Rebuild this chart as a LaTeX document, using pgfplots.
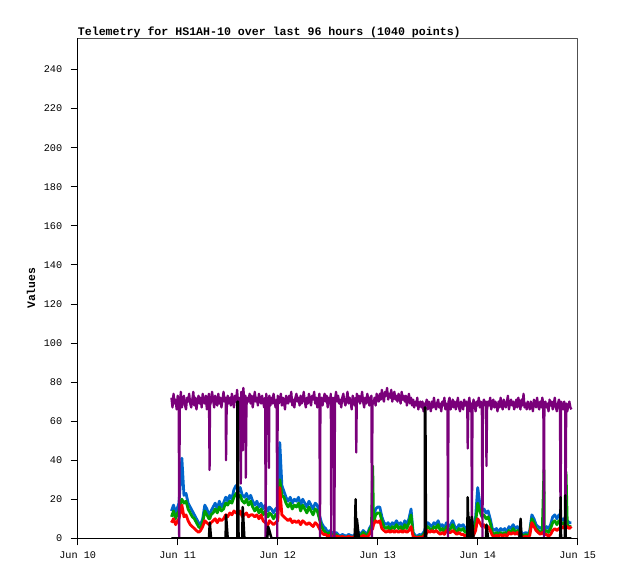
\documentclass[border=0pt]{standalone}
\usepackage{fontspec}
\setmonofont{Liberation Mono}
\usepackage{pgfplots}
\usepackage{pgfplotstable}
\pgfplotsset{compat=1.18}
\definecolor{tpurple}{RGB}{122,0,122}
\definecolor{tblue}{RGB}{0,102,204}
\definecolor{tgreen}{RGB}{0,160,0}
\definecolor{tred}{RGB}{255,0,0}
\definecolor{tframe}{RGB}{80,80,80}
\pgfplotstableread{
h b g r k
22.5 14 11 8 0
23.0 17 14 10 0
23.5 13 10 7 0
24.0 16 13 9 0
24.3 18 14 10 0
24.5 24 17 12 0
25.0 41 20 17 0
25.5 22 18 11 0
26.0 23 19 12 0
26.5 18 15 9 0
27.0 16 13 7 0
27.5 14 11 6 0
28.0 12 10 5 0
28.5 10 8 4 0
29.0 8 6 3 0
29.5 7 5 4 0
30.0 10 8 6 0
30.5 17 14 9 0
31.0 15 12 8 0
31.5 12 10 7 0
31.7 12 10 7 8
32.0 14 12 8 0
32.5 16 13 9 0
33.0 18 15 10 0
33.5 15 13 8 0
34.0 19 16 10 0
34.5 16 14 9 0
35.0 18 15 10 0
35.5 21 18 12 0
35.6 21 18 12 12
36.0 19 17 11 0
36.5 22 19 13 0
37.0 20 18 12 0
37.5 25 21 14 0
38.0 27 23 13 0
38.3 26 22 13 0
38.35 26 22 13 70
38.45 25 22 13 70
38.5 24 21 12 35
38.6 25 21 13 0
39.0 26 22 14 0
39.5 22 19 11 0
39.6 22 19 11 16
40.0 21 18 12 0
40.5 23 20 13 0
41.0 20 17 11 0
41.5 22 19 12 0
42.0 19 16 12 0
42.5 17 14 11 0
43.0 19 16 12 0
43.5 16 13 10 0
44.0 18 15 12 0
44.5 15 12 9 0
45.0 17 14 8 0
45.5 14 11 7 0
45.7 14 11 7 6
46.0 16 13 9 4
46.5 15 12 8 0
47.0 13 10 7 0
47.5 15 12 8 0
48.0 16 13 9 0
48.5 49 30 26 0
49.0 27 22 12 0
49.5 24 21 11 0
50.0 21 18 10 0
50.5 19 16 9 0
51.0 21 18 10 0
51.5 18 15 8 0
52.0 20 17 9 0
52.5 19 16 8 0
53.0 21 18 9 0
53.5 17 14 7 0
54.0 20 17 9 0
54.5 18 15 8 0
55.0 16 13 7 0
55.5 19 16 8 0
56.0 17 14 7 0
56.5 15 12 6 0
57.0 18 15 8 0
57.5 17 14 7 0
58.0 12 10 5 0
58.5 8 6 3 0
59.0 6 4 2 0
59.5 5 3 2 0
60.0 3 2 1 0
60.5 4 3 1.5 0
61.0 3 2 1 0
61.5 2 1 1 0
62.0 3 2 1 0
62.5 2 1 1 0
63.0 1 0.5 0.5 0
63.5 2 1 1 0
64.0 1.5 0.5 0.5 0
64.5 1 0.5 0.5 0
65.0 2 1 1 0
65.5 1.5 0.5 0.5 0
66.0 1 0.5 0.5 0
66.5 2 1 1 0
66.7 2 1 1 20
66.8 2 1 1 0
67.0 3 2 1 10
67.5 3 2 1 0
68.0 2 1 0.5 0
68.5 4 3 1.5 0
69.0 3 2 1 0
69.5 2 1 0.5 0
70.0 5 4 2 0
70.5 7 6 4 0
70.8 8 37 5 0
71.0 10 8 7 0
71.5 15 12 9 0
72.0 16 13 8 0
72.5 16 13 9 0
73.0 11 9 5 0
73.5 8 6 4 0
74.0 7 5 3 0
74.5 8 6 4 0
75.0 6 4 3 0
75.5 8 6 4 0
76.0 7 5 3 0
76.5 9 7 4 0
77.0 7 5 3 0
77.5 8 6 4 0
78.0 6 4 3 0
78.5 9 7 4 0
79.0 7 5 3 0
79.5 10 8 4 0
80.0 15 12 6 0
80.5 3 2 1 0
81.0 1.5 0.5 0.5 0
81.5 1 0.5 0.5 0
82.0 2 1 0.5 0
82.5 1.5 0.5 0.5 0
83.0 3 2 1 0
83.3 4 3 2 0
83.35 5 3 2 67
83.45 5 3 2 67
83.5 6 4 2 33
83.6 6 4 2 0
84.0 8 6 4 0
84.5 7 5 3 0
85.0 6 4 4 0
85.5 8 6 3 0
86.0 7 5 4 0
86.5 9 7 3 0
87.0 6 4 2 0
87.5 7 5 3 0
88.0 5 3 2 0
88.5 8 6 4 0
89.0 6 4 3 0
89.5 7 5 3 0
90.0 9 7 4 0
90.5 6 4 3 0
91.0 5 3 2 0
91.5 7 5 3 0
92.0 6 4 2 0
92.5 7 5 2 0
93.0 5 3 1 0
93.5 6 4 2 0
93.6 6 4 2 21
93.8 7 5 2 0
93.9 7 5 2 11
94.0 7 5 2 0
94.5 5 3 1 0
94.6 5 3 1 11
95.0 6 4 1.5 0
95.5 11 8 4 0
96.0 26 18 10 0
96.5 18 14 8 0
97.0 14 11 6 0
97.5 15 12 7 0
98.0 13 10 5 0
98.1 13 10 5 7
98.5 14 11 6 0
99.0 10 8 4 0
99.5 5 3 1.5 0
100.0 4 2 1 0
100.5 5 3 1.5 0
101.0 3 2 1 0
101.5 5 3 2 0
102.0 4 2 1 0
102.5 5 3 2 0
103.0 3 2 1 0
103.5 6 4 3 0
104.0 5 3 2 0
104.5 7 5 3 0
105.0 5 3 2 0
105.5 6 4 3 0
106.0 4 2 1.5 0
106.3 4 2 1.5 10
106.5 3 2 1 0
107.0 2 1 0.5 0
107.5 3 2 1 0
108.0 2 1 0.5 0
108.5 4 3 1.5 0
109.0 12 10 8 0
109.5 10 8 6 0
110.0 7 5 4 0
110.5 6 4 3 0
111.0 5 3 2 0
111.5 6 4 3 0
111.9 5 35 2 0
112.0 4 3 2 0
112.5 6 4 2 0
113.0 5 3 1 0
113.5 7 5 2 0
114.0 11 8 4 0
114.5 12 9 5 0
115.0 10 7 4 0
115.5 12 9 5 0
115.8 11 8 5 0
115.9 10 8 5 21
116.0 9 7 5 0
116.5 10 8 6 0
116.9 9 7 5 0
117.0 8 6 5 22
117.1 8 6 5 0
117.2 8 34 5 0
117.5 9 7 6 0
118.0 8 6 5 0
118.5 8 6 6 0
}\telem

\begin{document}
\begin{tikzpicture}
\useasboundingbox (0,0) rectangle (618pt,579pt);
\begin{axis}[
  at={(77.7pt,40.7pt)}, anchor=south west,
  scale only axis, width=500pt, height=500pt,
  xmin=0, xmax=120, ymin=0, ymax=256,
  axis x line*=bottom, axis y line*=left,
  axis line style={black, line width=1pt, -},
  xtick={0,24,...,120},
  xticklabels={Jun 10,Jun 11,Jun 12,Jun 13,Jun 14,Jun 15},
  ytick={0,20,...,240},
  tick align=outside, major tick length=7pt,
  tick style={black, line width=0.8pt},
  ticklabel style={font=\ttfamily\fontsize{10.2}{11}\selectfont},
  xticklabel style={yshift=-3pt},
  yticklabel style={xshift=-5pt},
  /pgf/number format/assume math mode=true,
  clip mode=individual,
  line join=round,
]
\addplot[tblue, line width=2.8pt] table[x=h,y=b]{\telem};
\addplot[tgreen, line width=2.8pt] table[x=h,y=g]{\telem};
\addplot[tred, line width=2.8pt] table[x=h,y=r]{\telem};
\addplot[tpurple, line width=2.3pt] coordinates {
(22.5,72) (22.75,67) (23,74) (23.25,69) (23.5,71) (23.75,66) (24,73) (24.25,70) (24.35,0)
(24.5,68) (24.75,75) (25,67) (25.25,71) (25.5,73) (25.75,68) (26,66) (26.25,72)
(26.5,70) (26.75,74) (27,69) (27.25,67) (27.5,71) (27.75,75) (28,68) (28.25,72)
(28.5,66) (28.75,70) (29,73) (29.25,69) (29.5,72) (29.75,67) (30,74) (30.25,70)
(30.5,69) (30.75,73) (31,66) (31.25,71) (31.5,74) (31.65,35) (31.75,68) (32,70) (32.25,75)
(32.5,71) (32.75,67) (33,73) (33.25,70) (33.5,68) (33.75,74) (34,69) (34.25,72)
(34.5,67) (34.75,71) (35,75) (35.25,70) (35.5,72) (35.6,40) (35.75,66) (36,73) (36.25,69)
(36.5,72) (36.75,68) (37,74) (37.25,71) (37.5,67) (37.75,73) (38,70) (38.25,76)
(38.5,69) (38.75,72) (39,68) (39.15,28) (39.25,75) (39.5,71) (39.65,45) (39.75,77) (40,70) (40.25,73) (40.35,31)
(40.5,68) (40.75,72) (41,70) (41.25,74) (41.5,69) (41.75,73) (42,67) (42.25,71)
(42.5,75) (42.75,70) (43,72) (43.25,68) (43.5,74) (43.75,71) (44,69) (44.25,73)
(44.5,70) (44.75,67) (45,72) (45.1,0) (45.25,74) (45.5,69) (45.75,71) (45.9,36) (46,73) (46.25,68)
(46.5,72) (46.75,69) (47,74) (47.25,70) (47.5,67) (47.75,71) (47.9,0) (48,73) (48.25,69)
(48.5,71) (48.75,74) (49,68) (49.25,72) (49.5,70) (49.75,66) (50,73) (50.25,71)
(50.5,69) (50.75,73) (51,70) (51.25,75) (51.5,68) (51.75,71) (52,67) (52.25,72)
(52.5,74) (52.75,70) (53,72) (53.25,68) (53.5,73) (53.75,69) (54,71) (54.25,75)
(54.5,70) (54.75,67) (55,72) (55.25,69) (55.5,74) (55.75,71) (56,68) (56.25,73)
(56.5,71) (56.75,75) (57,69) (57.25,72) (57.5,67) (57.75,70) (58,74) (58.15,0) (58.25,69)
(58.5,72) (58.75,68) (59,71) (59.25,74) (59.5,70) (59.75,73) (60,67) (60.25,72)
(60.5,69) (60.75,74) (60.85,0) (61,70) (61.25,72) (61.5,68) (61.6,0) (61.75,71) (62,75) (62.25,70)
(62.5,73) (62.75,69) (63,71) (63.25,67) (63.5,72) (63.75,74) (64,70) (64.25,68)
(64.5,71) (64.75,75) (65,69) (65.25,72) (65.5,70) (65.75,66) (66,73) (66.25,71)
(66.5,68) (66.75,72) (66.85,44) (67,74) (67.25,70) (67.5,73) (67.75,69) (68,71) (68.25,75)
(68.5,70) (68.75,67) (69,72) (69.25,69) (69.5,74) (69.75,71) (70,68) (70.25,72)
(70.5,73) (70.6,0) (70.75,70) (71,69) (71.25,72) (71.5,68) (71.75,74) (72,71) (72.25,70)
(72.5,74) (72.75,71) (73,76) (73.25,72) (73.5,70) (73.75,75) (74,73) (74.25,77)
(74.5,71) (74.75,74) (75,72) (75.25,76) (75.5,70) (75.75,73) (76,75) (76.25,71)
(76.5,73) (76.75,70) (77,74) (77.25,72) (77.5,69) (77.75,75) (78,71) (78.25,73)
(78.5,70) (78.75,73) (79,68) (79.25,71) (79.5,74) (79.75,69) (80,72) (80.25,68)
(80.5,71) (80.75,67) (81,70) (81.25,68) (81.5,72) (81.75,66) (82,69) (82.25,70)
(82.5,67) (82.75,70) (83,65) (83.25,69) (83.5,68) (83.75,71) (84,66) (84.25,70)
(84.5,68) (84.75,65) (85,70) (85.25,67) (85.5,72) (85.75,68) (86,66) (86.25,69)
(86.5,71) (86.75,67) (87,69) (87.25,65) (87.5,70) (87.75,68) (88,72) (88.25,66)
(88.5,69) (88.75,67) (88.85,0) (89,70) (89.25,72) (89.5,66) (89.75,68) (90,71) (90.25,67)
(90.5,70) (90.75,66) (91,69) (91.25,72) (91.5,67) (91.75,65) (92,70) (92.25,68)
(92.5,66) (92.75,71) (93,68) (93.25,70) (93.5,67) (93.6,46) (93.75,69) (94,72) (94.25,65)
(94.5,69) (94.6,0) (94.75,67) (95,71) (95.25,68) (95.5,65) (95.75,70) (96,68) (96.25,72)
(96.5,67) (96.75,70) (97,66) (97.15,0) (97.25,69) (97.5,71) (97.75,68) (98,70) (98.1,37) (98.25,66)
(98.5,70) (98.75,68) (99,72) (99.25,66) (99.5,69) (99.75,71) (100,67) (100.25,70)
(100.5,68) (100.75,65) (101,70) (101.25,67) (101.5,72) (101.75,68) (102,66) (102.25,71)
(102.5,69) (102.75,67) (103,70) (103.25,73) (103.5,66) (103.75,69) (104,71) (104.25,68)
(104.5,70) (104.75,66) (105,68) (105.25,71) (105.5,67) (105.75,72) (106,69) (106.25,66)
(106.5,71) (106.75,68) (107,74) (107.25,67) (107.5,69) (107.75,66) (108,70) (108.25,68)
(108.5,66) (108.75,70) (109,68) (109.25,65) (109.5,71) (109.75,69) (110,67) (110.25,72)
(110.5,68) (110.75,66) (111,70) (111.25,67) (111.5,72) (111.75,69) (111.9,0) (112,66) (112.25,70)
(112.5,67) (112.75,69) (113,65) (113.25,71) (113.5,68) (113.75,70) (114,66) (114.25,69)
(114.5,72) (114.75,67) (115,65) (115.25,69) (115.5,71) (115.75,66) (115.9,0) (116,70) (116.25,68)
(116.5,66) (116.75,70) (117,67) (117.05,0) (117.25,69) (117.5,65) (117.75,68) (118,70) (118.25,67)
(118.5,66)
};
\addplot[black, line width=2.5pt] table[x=h,y=k]{\telem};
\draw[tframe, line width=1pt] (rel axis cs:0,1) -- (rel axis cs:1,1) -- (rel axis cs:1,0);
\node[anchor=base west, inner sep=0pt, font=\ttfamily\bfseries\fontsize{11.6}{12}\selectfont]
  at ([yshift=3pt]rel axis cs:0,1) {Telemetry for HS1AH-10 over last 96 hours (1040 points)};
\node[rotate=90, inner sep=0pt, font=\ttfamily\bfseries\fontsize{11.4}{12}\selectfont]
  at ([xshift=-46.7pt]rel axis cs:0,0.5) {Values};
\end{axis}
\end{tikzpicture}
\end{document}
